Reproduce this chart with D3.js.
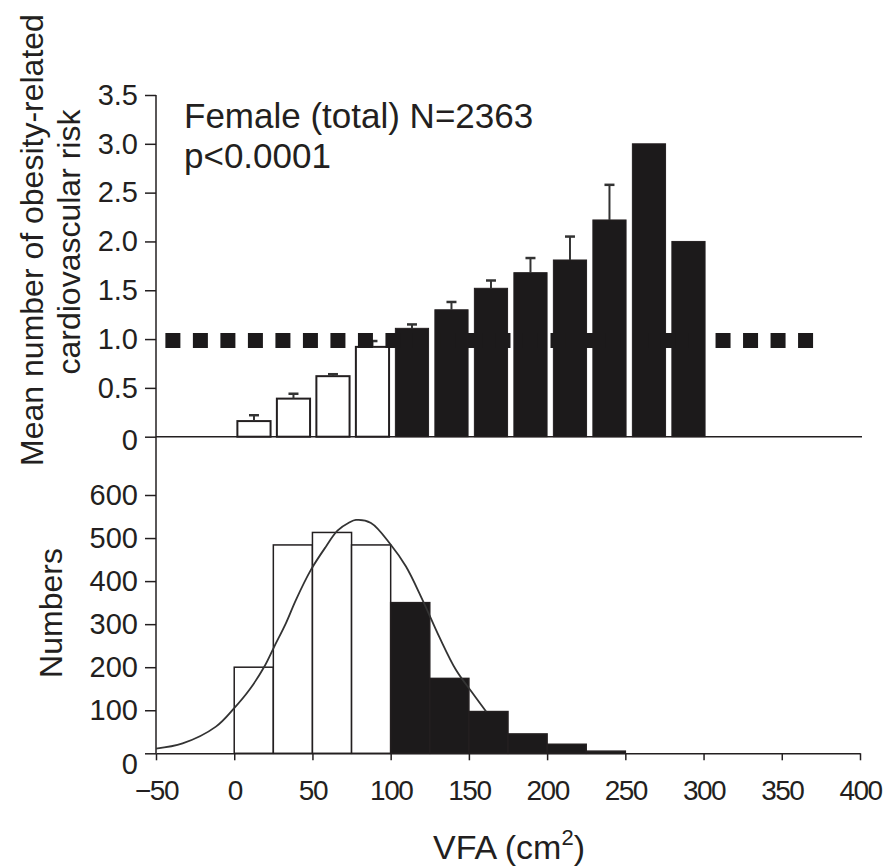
<!DOCTYPE html>
<html>
<head>
<meta charset="utf-8">
<script src="https://cdn.jsdelivr.net/npm/d3@7"></script>
<style>
  body { margin: 0; background: #fff; }
  text { font-family: "Liberation Sans", Arial, Helvetica, sans-serif; fill: #231f20; }
</style>
</head>
<body>
<div id="chart"></div>
<script>
const width = 889
const height = 866
const ink = '#231f20'

// top panel: mean number of risk factors per 25 cm2 VFA class
const riskBinStarts = [0, 25, 50, 75, 100, 125, 150, 175, 200, 225, 250, 275]
const riskMeans = [0.16, 0.39, 0.62, 0.92, 1.11, 1.30, 1.52, 1.68, 1.81, 2.22, 3.00, 2.00]
const riskErrTop = [0.22, 0.44, 0.64, 0.98, 1.15, 1.38, 1.60, 1.83, 2.05, 2.58, null, null]
const riskTicks = [0, 0.5, 1.0, 1.5, 2.0, 2.5, 3.0, 3.5]
const refLevel = 1.0
const refFrom = -44
const refTo = 370

// bottom panel: histogram of VFA
const countBinStarts = [0, 25, 50, 75, 100, 125, 150, 175, 200, 225]
const counts = [200, 484, 513, 484, 350, 174, 97, 45, 21, 5]
const countTicks = [0, 100, 200, 300, 400, 500, 600]
const vfaTicks = [-50, 0, 50, 100, 150, 200, 250, 300, 350, 400]
const binWidth = 25
const cutoff = 100

// fitted curve, points
const curveVfa = [-50, -33, -11.7, 0, 9.6, 19.2, 25.6, 33, 39.4, 49, 58.6, 66, 73.5, 77.8, 87.4, 100.2, 109.8, 120.4, 131, 141.7, 152.3, 161]
const curveCount = [11, 23, 62, 105, 147, 201, 248, 302, 356, 426, 480, 517, 536, 542, 535, 484, 434, 356, 271, 194, 140, 97]

const svg = d3.select('#chart')
  .append('svg')
  .attr('width', width)
  .attr('height', height)

const x = d3.scaleLinear().domain([-50, 400]).range([156, 860])
const yTop = d3.scaleLinear().domain([0, 3.5]).range([436.7, 95])
const yBot = d3.scaleLinear().domain([0, 600]).range([753.3, 495])

// top bars are spaced a touch wider than the histogram bins
const barStep = 39.5
const xTop = d3.scaleBand()
  .domain(riskBinStarts)
  .range([x(0), x(0) + barStep * riskBinStarts.length])
  .paddingInner(0.16)
  .paddingOuter(0.08)

// ---- top panel ----
const topAxis = d3.axisLeft(yTop)
  .tickValues(riskTicks)
  .tickSize(11)
  .tickSizeOuter(0)
  .tickPadding(7)
  .tickFormat(d => d === 0 ? '0' : d3.format('.1f')(d))

const gTop = svg.append('g')
  .attr('transform', `translate(${x(-50)},0)`)
  .call(topAxis)
gTop.select('.domain').remove()

const gBotY = svg.append('g')
  .attr('transform', `translate(${x(-50)},0)`)
  .call(d3.axisLeft(yBot).tickValues(countTicks).tickSize(11).tickSizeOuter(0).tickPadding(7))
gBotY.select('.domain').remove()

// zeros sit a little low in the original
gTop.selectAll('.tick text').filter(d => d === 0).attr('dy', '0.45em')
gBotY.selectAll('.tick text').filter(d => d === 0).attr('dy', '0.68em')

svg.selectAll('.tick text')
  .style('font-size', '29px')
  .style('font-family', '"Liberation Sans", Arial, sans-serif')
  .attr('fill', ink)
svg.selectAll('.tick line').attr('stroke', ink).attr('stroke-width', 1.5)

// continuous y axis line through both panels
svg.append('line')
  .attr('x1', x(-50)).attr('x2', x(-50))
  .attr('y1', yTop(3.5)).attr('y2', yBot(0))
  .attr('stroke', ink).attr('stroke-width', 1.5)

// top baseline
svg.append('line')
  .attr('x1', x(-50)).attr('x2', x(400) + 2)
  .attr('y1', yTop(0)).attr('y2', yTop(0))
  .attr('stroke', ink).attr('stroke-width', 1.5)

svg.selectAll('.risk-bar')
  .data(riskBinStarts)
  .enter()
  .append('rect')
  .attr('class', 'risk-bar')
  .attr('x', d => xTop(d))
  .attr('width', xTop.bandwidth())
  .attr('y', (d, i) => yTop(riskMeans[i]))
  .attr('height', (d, i) => yTop(0) - yTop(riskMeans[i]))
  .attr('fill', d => d >= cutoff ? '#1c1a1b' : '#fff')
  .attr('stroke', ink)
  .attr('stroke-width', d => d >= cutoff ? 1 : 2)

const errData = riskBinStarts.map((d, i) => ({ start: d, mean: riskMeans[i], top: riskErrTop[i] }))
  .filter(d => d.top != null)

const errG = svg.append('g').attr('stroke', '#333').attr('stroke-width', 2)
errG.selectAll('.err')
  .data(errData)
  .enter()
  .append('line')
  .attr('x1', d => xTop(d.start) + xTop.bandwidth() / 2)
  .attr('x2', d => xTop(d.start) + xTop.bandwidth() / 2)
  .attr('y1', d => yTop(d.mean))
  .attr('y2', d => yTop(d.top))
errG.selectAll('.cap')
  .data(errData)
  .enter()
  .append('line')
  .attr('x1', d => xTop(d.start) + xTop.bandwidth() / 2 - 5)
  .attr('x2', d => xTop(d.start) + xTop.bandwidth() / 2 + 5)
  .attr('y1', d => yTop(d.top))
  .attr('y2', d => yTop(d.top))
  .attr('stroke-width', 2.5)

// dotted reference line at 1.0 (24 square dots)
const refLen = x(refTo) - x(refFrom)
const dot = 15
const dotGap = (refLen - 24 * dot) / 23
svg.append('line')
  .attr('x1', x(refFrom)).attr('x2', x(refTo))
  .attr('y1', yTop(refLevel) + 1.5).attr('y2', yTop(refLevel) + 1.5)
  .attr('stroke', '#1c1a1b')
  .attr('stroke-width', dot)
  .attr('stroke-dasharray', `${dot} ${dotGap}`)

svg.append('text')
  .attr('x', 184).attr('y', 128)
  .style('font-size', '35px')
  .text('Female (total) N=2363')
svg.append('text')
  .attr('x', 184).attr('y', 168)
  .style('font-size', '35px')
  .text('p<0.0001')

svg.append('text')
  .attr('transform', 'translate(43,240) rotate(-90)')
  .attr('text-anchor', 'middle')
  .style('font-size', '32px')
  .text('Mean number of obesity-related')
svg.append('text')
  .attr('transform', 'translate(80,242) rotate(-90)')
  .attr('text-anchor', 'middle')
  .style('font-size', '32px')
  .text('cardiovascular risk')

// ---- bottom panel ----
svg.selectAll('.count-bar')
  .data(countBinStarts)
  .enter()
  .append('rect')
  .attr('class', 'count-bar')
  .attr('x', d => x(d))
  .attr('width', d => x(d + binWidth) - x(d))
  .attr('y', (d, i) => yBot(counts[i]))
  .attr('height', (d, i) => yBot(0) - yBot(counts[i]))
  .attr('fill', d => d >= cutoff ? '#1c1a1b' : '#fff')
  .attr('stroke', ink)
  .attr('stroke-width', 1.5)

const curve = d3.line()
  .x((d, i) => x(d))
  .y((d, i) => yBot(curveCount[i]))
  .curve(d3.curveCatmullRom)

svg.append('path')
  .datum(curveVfa)
  .attr('d', curve)
  .attr('fill', 'none')
  .attr('stroke', '#333')
  .attr('stroke-width', 1.8)

const xAxis = d3.axisBottom(x)
  .tickValues(vfaTicks)
  .tickSize(7)
  .tickSizeOuter(0)
  .tickPadding(20)

const gX = svg.append('g')
  .attr('transform', `translate(0,${yBot(0)})`)
  .call(xAxis)
gX.select('.domain').attr('stroke', ink).attr('stroke-width', 1.5)
gX.selectAll('.tick line').attr('stroke', ink).attr('stroke-width', 1.5)
gX.selectAll('.tick text')
  .style('font-size', '28px')
  .style('font-family', '"Liberation Sans", Arial, sans-serif')
  .style('letter-spacing', '-1.5px')
  .attr('fill', ink)

svg.append('text')
  .attr('transform', 'translate(62,613) rotate(-90)')
  .attr('text-anchor', 'middle')
  .style('font-size', '32px')
  .text('Numbers')

const xTitle = svg.append('text')
  .attr('x', 509).attr('y', 859)
  .attr('text-anchor', 'middle')
  .style('font-size', '34px')
xTitle.append('tspan').text('VFA (cm')
xTitle.append('tspan').attr('dy', -14).style('font-size', '22px').text('2')
xTitle.append('tspan').attr('dy', 14).text(')')
</script>
</body>
</html>
